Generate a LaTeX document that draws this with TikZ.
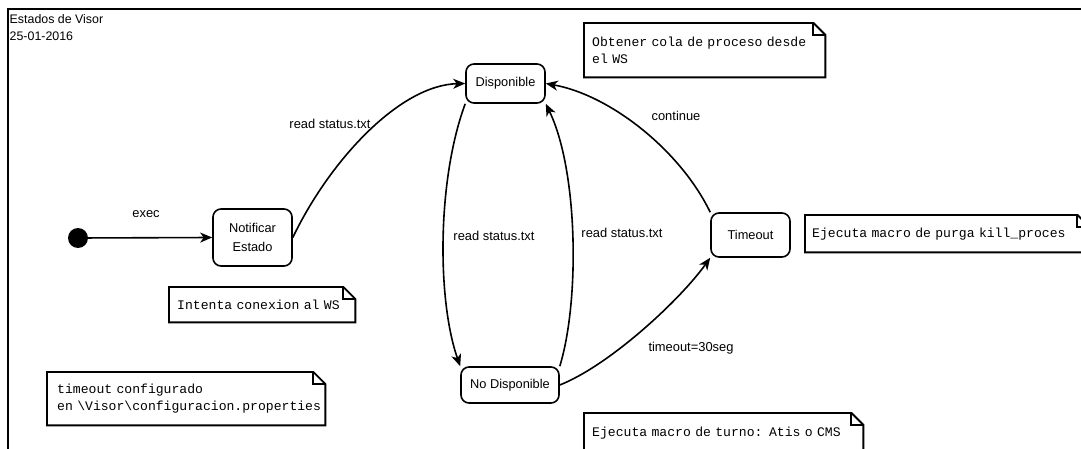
\documentclass[tikz,border=0pt]{standalone}
\usepackage{fontspec}
\setmainfont{Liberation Sans}
\newfontfamily\notefont{Liberation Mono}[WordSpace={1,0,0}]
\usetikzlibrary{arrows.meta,calc}

% outline of a note: rectangle with a folded top-right corner
\newcommand\drawnote[1]{%
  \draw[noteline] (#1.north west) -- ([xshift=-12pt]#1.north east)
    -- ([yshift=-12pt]#1.north east) -- (#1.south east) -- (#1.south west) -- cycle;
  \draw[noteline] ([xshift=-12pt]#1.north east) |- ([yshift=-12pt]#1.north east);}

\begin{document}
\begin{tikzpicture}[x=1pt,y=-1pt,
  statebox/.style={draw, line width=1.6pt, rounded corners=8pt, inner sep=0pt,
    align=center, font=\fontsize{12.8}{19}\selectfont},
  notebox/.style={draw=none, anchor=north west, inner ysep=0pt, align=left,
    font=\notefont\fontsize{13.1}{17.5}\selectfont},
  noteline/.style={line width=1.9pt, line join=miter},
  lbl/.style={font=\fontsize{12.9}{15}\selectfont, inner sep=0pt},
  conn/.style={line width=1.6pt, -{Stealth[length=12pt,width=10pt,inset=3.5pt]}}]

\useasboundingbox (0,0) rectangle (1081,449);
\fill[white] (0,0) rectangle (1081,449);
\clip (0,0) rectangle (1081,449);

% frame and title
\draw[line width=1.8pt] (8,455) -- (8,9) -- (1090,9);
\node[anchor=north west, inner sep=0pt, align=left,
      font=\fontsize{12.4}{17.5}\selectfont] (title) at (9.5,14)
  {Estados de Visor\\25-01-2016};

% states
\node[circle, fill, inner sep=0pt, minimum size=20pt] (init) at (78,238) {};
\node[statebox, minimum width=79pt, minimum height=57pt] (notif) at (252.5,237.5) {Notificar\\Estado};
\node[statebox, minimum width=79pt, minimum height=39pt] (disp) at (505.5,83.5) {Disponible};
\node[statebox, minimum width=79pt, minimum height=44pt] (tout) at (750.5,235) {Timeout};
\node[statebox, minimum width=98pt, minimum height=36pt] (nodisp) at (510,385) {No Disponible};

% notes
\node[notebox, minimum width=241pt, minimum height=54pt, inner xsep=8pt, text width=225pt]
  (nobt) at (584,23) {\mbox{Obtener cola de proceso desde}\\\mbox{el WS}};
\node[notebox, minimum width=284pt, minimum height=37pt, inner xsep=7pt, text width=270pt]
  (npurga) at (805,215) {\mbox{Ejecuta macro de purga kill\_proces}};
\node[notebox, minimum width=186pt, minimum height=35pt, inner xsep=8pt, text width=170pt]
  (nint) at (169,287) {\mbox{Intenta conexion al WS}};
\node[notebox, minimum width=278pt, minimum height=53pt, inner xsep=10pt, text width=258pt]
  (nconf) at (47,372) {\mbox{timeout configurado}\\\mbox{en \textbackslash Visor\textbackslash configuracion.properties}};
\node[notebox, minimum width=279pt, minimum height=40pt, inner xsep=8pt, text width=263pt]
  (nturno) at (584,413) {\mbox{Ejecuta macro de turno: Atis o CMS}};
\drawnote{nobt}
\drawnote{npurga}
\drawnote{nint}
\drawnote{nconf}
\drawnote{nturno}

% transitions
\draw[conn] (init) -- (notif.west);
\draw[conn] (notif.east) .. controls (330,160) and (400,85) .. (disp.west);
\draw[conn] (disp.south west) .. controls (437,180) and (437,300) .. (nodisp.north west);
\draw[conn] (nodisp.north east) .. controls (580,300) and (578,170) .. (disp.south east);
\draw[conn] (tout.north west) .. controls (680,150) and (610,95) .. (disp.east);
\draw[conn] (nodisp.east) .. controls (610,365) and (680,300) .. (tout.south west);

% transition labels
\node[lbl] (lexec) at (146,214) {exec};
\node[lbl] (lread1) at (330,124) {read status.txt};
\node[lbl] (lread2) at (494,236) {read status.txt};
\node[lbl] (lread3) at (622,233) {read status.txt};
\node[lbl] (lcont) at (676,116) {continue};
\node[lbl] (ltime) at (691,348) {timeout=30seg};
\end{tikzpicture}
\end{document}
